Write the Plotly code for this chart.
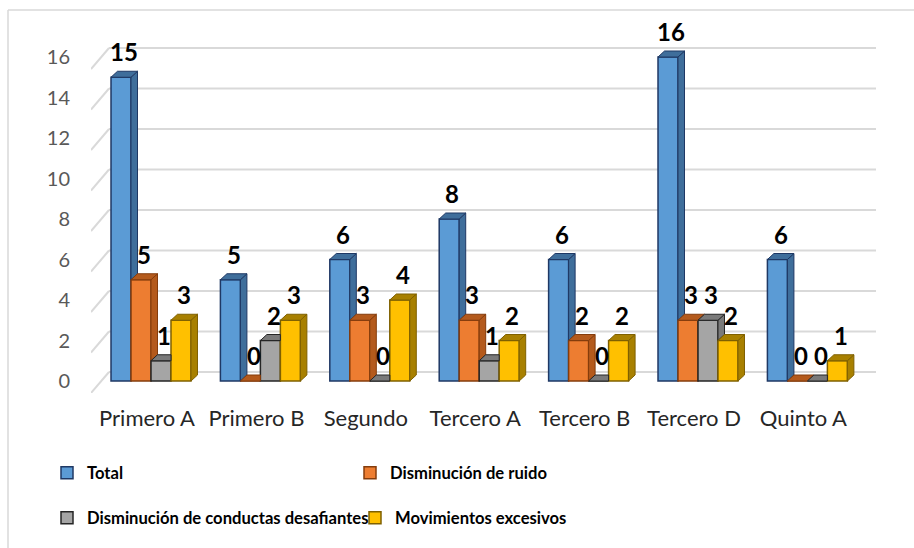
import plotly.graph_objects as go

categories = ["Primero A", "Primero B", "Segundo", "Tercero A", "Tercero B", "Tercero D", "Quinto A"]
series_names = ["Total", "Disminución de ruido", "Disminución de conductas desafiantes", "Movimientos excesivos"]
total = [15, 5, 6, 8, 6, 16, 6]
ruido = [5, 0, 3, 3, 2, 3, 0]
conductas = [1, 2, 0, 1, 0, 3, 0]
movimientos = [3, 3, 4, 2, 2, 2, 1]
y_ticks = [0, 2, 4, 6, 8, 10, 12, 14, 16]

series = [total, ruido, conductas, movimientos]
front_colors = ["#5B9BD5", "#ED7D31", "#A5A5A5", "#FFC000"]
side_colors = ["#3F6E9B", "#B45A1C", "#7A7A7A", "#A88000"]
line_colors = ["#1F3864", "#843C0C", "#262626", "#7F6000"]

W, H = 914, 548
L, R, T, B = 91, 876, 10, 393
X0PX = 151.0          # pixel of category 0 centre
XPX = 109.4           # pixels per category
YBASE = 381.0         # pixel of value 0 (bar front)
YPX = 20.25           # pixels per unit
xmin = (L - X0PX) / XPX
xmax = (R - X0PX) / XPX
ymin = (YBASE - B) / YPX
ymax = (YBASE - T) / YPX

def px2paper_x(p):
    return (p - L) / (R - L)

def px2paper_y(p):
    return (B - p) / (B - T)

group_w = 0.731
bar_w = group_w / 4
dx = 6.5 / XPX
dy = 6.0 / YPX

fig = go.Figure()
legend_ids = ["legend", "legend", "legend2", "legend2"]
for k, (name, vals) in enumerate(zip(series_names, series)):
    fig.add_trace(go.Bar(
        x=list(range(len(categories))), y=vals, name=name,
        marker=dict(color=front_colors[k], line=dict(color=line_colors[k], width=1.5)),
        legend=legend_ids[k], hoverinfo="y",
    ))

shapes = []
# frame
shapes.append(dict(type="line", xref="paper", yref="paper",
                   x0=px2paper_x(8), x1=px2paper_x(8), y0=px2paper_y(10), y1=px2paper_y(H + 5),
                   line=dict(color="#D9D9D9", width=1.5)))
shapes.append(dict(type="line", xref="paper", yref="paper",
                   x0=px2paper_x(8), x1=px2paper_x(W + 5), y0=px2paper_y(10), y1=px2paper_y(10),
                   line=dict(color="#D9D9D9", width=1.5)))
# gridlines: back wall + diagonal floor edge
back_off = (YBASE - 372.0) / YPX
front_off = (YBASE - 393.0) / YPX
xb = (109 - X0PX) / XPX
for v in y_ticks:
    shapes.append(dict(type="line", xref="x", yref="y", layer="below",
                       x0=xb, x1=xmax, y0=v + back_off, y1=v + back_off,
                       line=dict(color="#D9D9D9", width=2)))
    shapes.append(dict(type="line", xref="x", yref="y", layer="below",
                       x0=xmin, x1=xb, y0=v + front_off, y1=v + back_off,
                       line=dict(color="#D9D9D9", width=2)))

annotations = []
n = len(categories)
for i in range(n):
    for k in range(4):
        v = series[k][i]
        vnext = series[k + 1][i] if k < 3 else None
        x0 = i - group_w / 2 + bar_w * k
        x1 = x0 + bar_w
        # side face (visible part above the next bar)
        if vnext is None:
            p = f"M{x1},0 L{x1},{v} L{x1+dx},{v+dy} L{x1+dx},{dy} Z"
            shapes.append(dict(type="path", xref="x", yref="y", path=p,
                               fillcolor=side_colors[k], line=dict(color=line_colors[k], width=1)))
        elif v > vnext:
            p = f"M{x1},{vnext} L{x1},{v} L{x1+dx},{v+dy} L{x1+dx},{vnext+dy} Z"
            shapes.append(dict(type="path", xref="x", yref="y", path=p,
                               fillcolor=side_colors[k], line=dict(color=line_colors[k], width=1)))
        # top face
        if vnext is not None and vnext > v:
            p = f"M{x0},{v} L{x1},{v} L{x1},{v+dy} L{x0+dx},{v+dy} Z"
        else:
            p = f"M{x0},{v} L{x1},{v} L{x1+dx},{v+dy} L{x0+dx},{v+dy} Z"
        shapes.append(dict(type="path", xref="x", yref="y", path=p,
                           fillcolor=side_colors[k], line=dict(color=line_colors[k], width=1)))
        annotations.append(dict(x=(x0 + x1) / 2 + dx / 2, y=v, xref="x", yref="y",
                                text=str(v), showarrow=False, yanchor="bottom", yshift=9,
                                font=dict(family="Lato", size=24, color="#000000", weight="bold")))

legend_font = dict(family="Lato", size=16.6, color="#000000", weight="bold")
fig.update_layout(
    width=W, height=H,
    margin=dict(l=L, r=W - R, t=T, b=H - B, autoexpand=False),
    paper_bgcolor="white", plot_bgcolor="white",
    barmode="group", bargap=1 - group_w, bargroupgap=0,
    xaxis=dict(range=[xmin, xmax], tickvals=list(range(n)), ticktext=categories,
               showgrid=False, zeroline=False, showline=False, ticks="",
               tickfont=dict(family="Lato", size=22, color="#262626"),
               ticklabelstandoff=10, ticklabelshift=-4),
    yaxis=dict(range=[ymin, ymax], tickvals=y_ticks, showgrid=False, zeroline=False,
               showline=False, ticks="",
               tickfont=dict(family="Lato", size=20, color="#595959"),
               ticklabelstandoff=20),
    shapes=shapes, annotations=annotations,
    legend=dict(orientation="h", x=px2paper_x(47), y=px2paper_y(473), xanchor="left", yanchor="middle",
                entrywidth=258, entrywidthmode="pixels",
                font=legend_font, bgcolor="rgba(0,0,0,0)"),
    legend2=dict(orientation="h", x=px2paper_x(47), y=px2paper_y(518), xanchor="left", yanchor="middle",
                 entrywidth=263, entrywidthmode="pixels",
                 font=legend_font, bgcolor="rgba(0,0,0,0)"),
    showlegend=True,
)

fig.write_html("out.html", config={"displayModeBar": False},
               post_script="document.body.style.margin='0';document.body.style.overflow='hidden';")
